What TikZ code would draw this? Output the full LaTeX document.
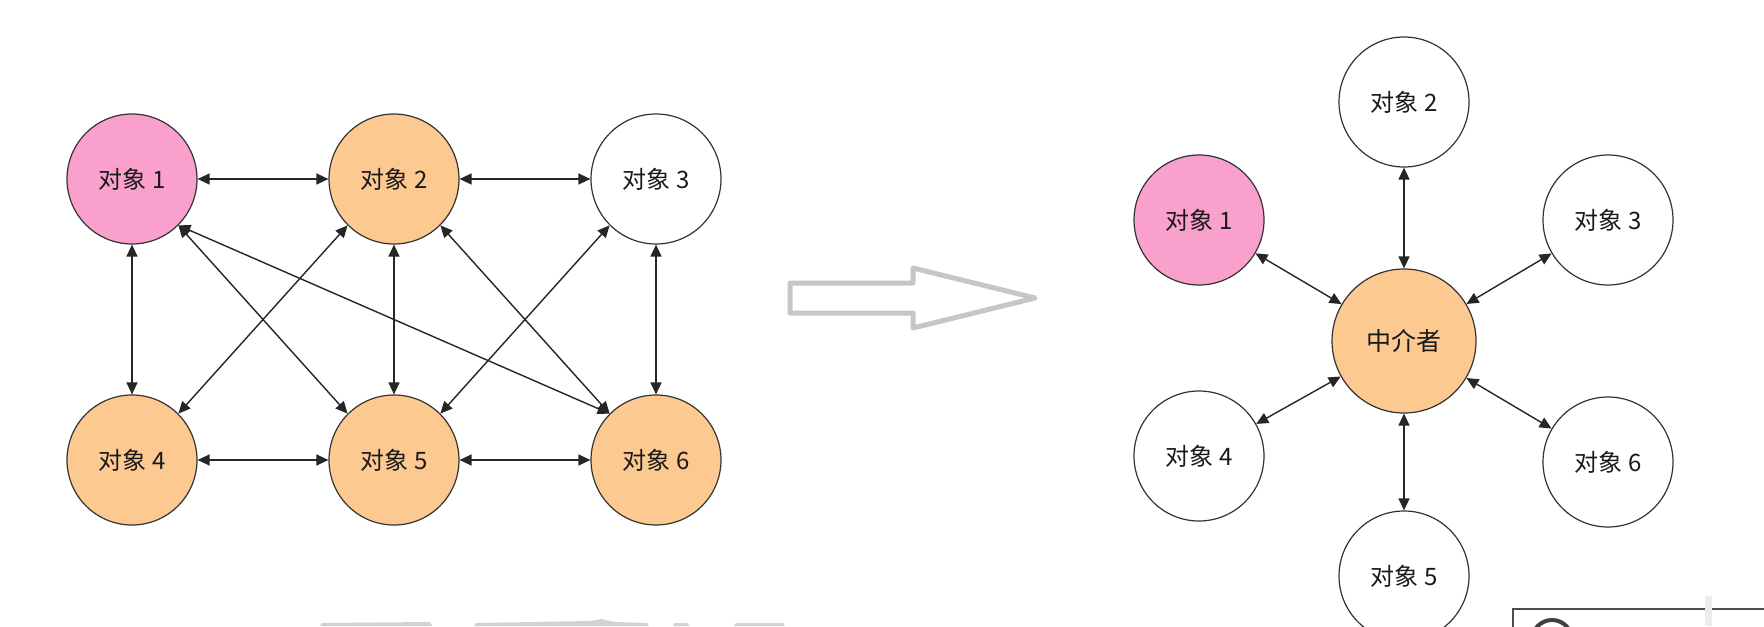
\documentclass[tikz,border=0pt]{standalone}
\usepackage{fontspec}
\setmainfont{Noto Sans CJK SC}
\usetikzlibrary{arrows.meta}
\definecolor{pinkfill}{RGB}{249,160,204}
\definecolor{orangefill}{RGB}{252,201,145}
\definecolor{bigarrow}{RGB}{198,198,198}
\begin{document}
\begin{tikzpicture}[x=0.5pt,y=-0.5pt,
  obj/.style={circle,draw=black!80,line width=0.6pt,minimum size=65pt,inner sep=0pt,
    font=\fontsize{12}{14}\selectfont,text=black!90},
  hub/.style={obj,minimum size=72pt,font=\fontsize{12.5}{14}\selectfont},
  link/.style={{Triangle[length=6pt,width=5.5pt]}-{Triangle[length=6pt,width=5.5pt]},
    line width=0.7pt,draw=black!85},
  wm/.style={fill=gray!35,draw=none}]
\useasboundingbox (0,0) rectangle (1764,626);
\clip (0,0) rectangle (1764,626);
\fill[white] (0,0) rectangle (1764,626);

% ---- left: every object talks to others ----
\node[obj,fill=pinkfill]   (a1) at (132,179) {对象 1};
\node[obj,fill=orangefill] (a2) at (394,179) {对象 2};
\node[obj,fill=white]      (a3) at (656,179) {对象 3};
\node[obj,fill=orangefill] (a4) at (132,460) {对象 4};
\node[obj,fill=orangefill] (a5) at (394,460) {对象 5};
\node[obj,fill=orangefill] (a6) at (656,460) {对象 6};

\draw[link] (a1) -- (a2);
\draw[link] (a2) -- (a3);
\draw[link] (a4) -- (a5);
\draw[link] (a5) -- (a6);
\draw[link] (a1) -- (a4);
\draw[link] (a2) -- (a5);
\draw[link] (a3) -- (a6);
\draw[link] (a1.south east) -- (a5.north west);
\draw[link] (a1.south east) -- (a6.north west);
\draw[link] (a2.south west) -- (a4.north east);
\draw[link] (a2.south east) -- (a6.north west);
\draw[link] (a3.south west) -- (a5.north east);

% ---- big hollow arrow ----
\draw[bigarrow,line width=2.5pt,line join=round,fill=white]
  (790,283) -- (913,283) -- (913,268) -- (1035,298) -- (913,328) -- (913,313) -- (790,313) -- cycle;

% ---- right: mediator ----
\node[hub,fill=orangefill] (m)  at (1404,341) {中介者};
\node[obj,fill=white]      (b2) at (1404,102) {对象 2};
\node[obj,fill=pinkfill]   (b1) at (1199,220) {对象 1};
\node[obj,fill=white]      (b3) at (1608,220) {对象 3};
\node[obj,fill=white]      (b4) at (1199,456) {对象 4};
\node[obj,fill=white]      (b6) at (1608,462) {对象 6};
\node[obj,fill=white]      (b5) at (1404,576) {对象 5};

\draw[link] (m) -- (b1);
\draw[link] (m) -- (b2);
\draw[link] (m) -- (b3);
\draw[link] (m) -- (b4);
\draw[link] (m) -- (b5);
\draw[link] (m) -- (b6);

% ---- cut-off watermark remnants ----
\draw[black!70,line width=1pt] (1513,609) rectangle (1800,700);
\draw[black!75,line width=2pt] (1552,640) circle[radius=20];
\fill[gray!15] (1705,596) rectangle (1712,626);
\fill[wm] (320,626) -- (322,623) -- (430,622) -- (432,626) -- cycle;
\fill[wm] (474,626) -- (476,623) -- (590,621) -- (601,619) -- (615,622) -- (647,623) -- (649,626) -- cycle;
\fill[wm] (673,626) -- (674,623) -- (688,623) -- (689,626) -- cycle;
\fill[wm] (734,626) -- (736,623) -- (783,623) -- (785,626) -- cycle;
\end{tikzpicture}
\end{document}
